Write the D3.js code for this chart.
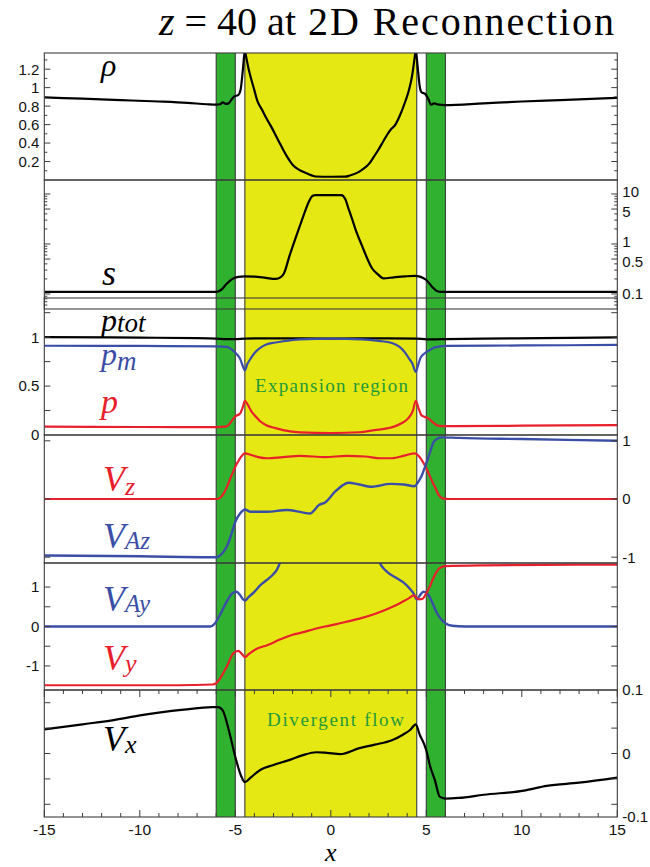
<!DOCTYPE html>
<html>
<head>
<meta charset="utf-8">
<script src="https://cdn.jsdelivr.net/npm/d3@7"></script>
<style>
  html, body { margin: 0; padding: 0; background: #fff; }
  svg { display: block; }
</style>
</head>
<body>
<svg id="chart" width="650" height="867"></svg>
<script>
// ---------------- data ----------------
const xDomain = [-15, 15];
const xMajorTicks = [-15, -10, -5, 0, 5, 10, 15];
const expansionRegion = [-4.5, 4.5];
const shockBands = [[-6, -5], [5, 6]];

// density
const rho = [[-15,0.895],[-13,0.88],[-11,0.865],[-9,0.85],[-7.5,0.835],[-6.5,0.82],[-6,0.815],[-5.8,0.82],[-5.65,0.84],[-5.5,0.825],[-5.35,0.83],[-5.2,0.87],[-5.05,0.905],[-4.85,0.92],[-4.72,0.98],[-4.6,1.2],[-4.5,1.4],[-4.42,1.32],[-4.3,1.2],[-4.15,1.08],[-4.0,0.97],[-3.85,0.86],[-3.6,0.76],[-3.35,0.66],[-3.1,0.57],[-2.9,0.49],[-2.7,0.41],[-2.5,0.33],[-2.25,0.24],[-2.0,0.165],[-1.7,0.115],[-1.3,0.075],[-1.0,0.05],[-0.8,0.038],[0,0.035],[0.75,0.036],[1.0,0.048],[1.45,0.085],[1.7,0.12],[2.0,0.175],[2.25,0.25],[2.5,0.33],[2.75,0.42],[2.95,0.49],[3.15,0.55],[3.35,0.59],[3.6,0.69],[3.9,0.85],[4.1,0.98],[4.25,1.12],[4.35,1.26],[4.45,1.4],[4.55,1.22],[4.65,1.02],[4.75,0.95],[4.95,0.93],[5.1,0.88],[5.25,0.815],[5.4,0.83],[5.55,0.82],[5.75,0.815],[6,0.81],[8,0.83],[10,0.85],[12,0.865],[15,0.89]];
const rhoTicks = [0.2, 0.4, 0.6, 0.8, 1, 1.2];
const rhoMinorTicks = [0.1, 0.3, 0.5, 0.7, 0.9, 1.1, 1.3];
const rhoTickLabels = [0.2, 0.4, 0.6, 0.8, 1, 1.2];

// entropy (log axis)
const entropy = [[-15,0.11],[-10,0.11],[-6,0.11],[-5.75,0.12],[-5.45,0.16],[-5.15,0.2],[-4.85,0.22],[-4.5,0.225],[-4,0.222],[-3.4,0.21],[-2.9,0.2],[-2.6,0.22],[-2.45,0.26],[-2.15,0.6],[-1.85,1.3],[-1.6,2.4],[-1.35,4.5],[-1.15,7],[-0.95,9.2],[-0.8,9.5],[0,9.5],[0.55,9.5],[0.75,8],[0.95,4.8],[1.1,3.3],[1.35,1.7],[1.62,0.95],[1.9,0.52],[2.15,0.33],[2.45,0.25],[2.76,0.205],[3.3,0.215],[3.9,0.225],[4.4,0.23],[4.7,0.22],[5.0,0.19],[5.3,0.14],[5.55,0.115],[5.8,0.11],[6,0.11],[10,0.11],[15,0.11]];
const entropyTicks = [0.1, 0.5, 1, 5, 10];
const entropyMinorTicks = [0.06, 0.07, 0.08, 0.09, 0.2, 0.3, 0.4, 0.6, 0.7, 0.8, 0.9, 2, 3, 4, 6, 7, 8, 9];
const entropyTickLabels = [10, 5, 1, 0.5, 0.1];

// pressures
const pTot = [[-15,1.0],[-10,0.995],[-7,0.99],[-6,0.985],[-5.5,0.98],[-5,0.98],[-4.5,0.985],[-3,0.988],[0,0.985],[3,0.988],[4.5,0.985],[5,0.978],[5.5,0.978],[6,0.98],[8,0.985],[11,0.99],[15,0.998]];
const pMag = [[-15,0.912],[-10,0.91],[-6,0.905],[-5.45,0.9],[-5.1,0.86],[-4.9,0.82],[-4.75,0.78],[-4.62,0.71],[-4.5,0.66],[-4.38,0.72],[-4.2,0.78],[-3.98,0.84],[-3.7,0.89],[-3.38,0.925],[-2.9,0.945],[-2.5,0.958],[-1.6,0.978],[0,0.985],[1.6,0.978],[2.5,0.962],[3.2,0.94],[3.6,0.9],[3.9,0.84],[4.1,0.78],[4.27,0.73],[4.45,0.645],[4.58,0.72],[4.7,0.79],[4.92,0.835],[5.2,0.87],[5.45,0.895],[6,0.91],[10,0.915],[15,0.92]];
const pGas = [[-15,0.085],[-10,0.082],[-6,0.08],[-5.45,0.088],[-5.2,0.14],[-5.0,0.19],[-4.75,0.22],[-4.6,0.29],[-4.5,0.35],[-4.35,0.31],[-4.15,0.24],[-3.98,0.2],[-3.7,0.14],[-3.38,0.1],[-2.9,0.07],[-2.5,0.05],[-1.6,0.027],[0,0.02],[1.5,0.028],[2.3,0.05],[3.0,0.07],[3.35,0.088],[3.7,0.12],[4.05,0.17],[4.3,0.25],[4.45,0.35],[4.6,0.27],[4.75,0.2],[5.1,0.17],[5.35,0.13],[5.6,0.096],[6,0.09],[10,0.095],[15,0.1]];
const pressureTicks = [0.25, 0.5, 0.75, 1, 1.25];
const pressureTickLabels = [1, 0.5, 0];

// z components of flow and Alfven velocity
const vz = [[-15,0],[-6,0],[-5.8,0.02],[-5.6,0.1],[-5.45,0.2],[-5.2,0.4],[-5.0,0.555],[-4.75,0.7],[-4.5,0.785],[-4.2,0.76],[-3.8,0.72],[-3.35,0.7],[-2.5,0.72],[-1.6,0.74],[-0.3,0.72],[0.8,0.74],[1.8,0.73],[2.6,0.7],[3.2,0.7],[3.9,0.75],[4.4,0.785],[4.6,0.74],[4.92,0.58],[5.2,0.38],[5.45,0.21],[5.65,0.07],[5.85,0.01],[6.2,0],[15,0]];
const vaz = [[-15,-0.97],[-10,-0.985],[-6,-1.0],[-5.8,-0.97],[-5.6,-0.9],[-5.45,-0.82],[-5.2,-0.6],[-5.0,-0.39],[-4.75,-0.25],[-4.5,-0.18],[-4.2,-0.22],[-3.35,-0.22],[-2.3,-0.19],[-1.5,-0.23],[-1.1,-0.25],[-0.6,-0.1],[-0.3,-0.06],[0.22,0.125],[0.6,0.23],[0.92,0.28],[1.5,0.25],[2.1,0.21],[3.15,0.26],[3.8,0.25],[4.38,0.22],[4.55,0.28],[4.7,0.36],[5.06,0.67],[5.4,0.985],[5.6,1.04],[5.8,1.06],[6.7,1.05],[10,1.03],[15,1.0]];
const vzTicks = [-1, 0, 1];
const vzTickLabels = [1, 0, -1];

// y components (Alfven velocity leaves the frame between the rotational discontinuities)
const vay = [[-15,0],[-6.3,0],[-6.1,0.06],[-5.8,0.3],[-5.45,0.63],[-5.2,0.82],[-4.95,0.88],[-4.75,0.8],[-4.58,0.68],[-4.5,0.66],[-4.3,0.75],[-4.0,0.88],[-3.7,1.04],[-3.35,1.18],[-3.0,1.33],[-2.8,1.46],[-2.67,1.61],[-2.55,1.75],[0,null],[2.5,1.75],[2.58,1.61],[2.75,1.48],[2.93,1.39],[3.4,1.24],[3.8,1.12],[4.1,0.98],[4.33,0.84],[4.5,0.69],[4.65,0.78],[4.85,0.88],[5.05,0.84],[5.3,0.62],[5.57,0.33],[5.8,0.17],[6.0,0.08],[6.35,0.02],[7,0],[15,0]];
const vy = [[-15,-1.49],[-8,-1.49],[-6.2,-1.47],[-6,-1.44],[-5.75,-1.28],[-5.45,-1.02],[-5.1,-0.68],[-4.85,-0.62],[-4.65,-0.7],[-4.5,-0.78],[-4.3,-0.7],[-3.9,-0.57],[-3.3,-0.47],[-2.67,-0.33],[-2,-0.21],[-1.5,-0.15],[-0.9,-0.07],[-0.3,0],[0.3,0.06],[0.8,0.12],[1.5,0.2],[2.37,0.33],[3.0,0.45],[3.41,0.54],[3.8,0.64],[4.1,0.72],[4.35,0.79],[4.5,0.72],[4.6,0.69],[4.8,0.7],[4.95,0.8],[5.15,0.98],[5.3,1.15],[5.5,1.35],[5.7,1.48],[6.0,1.53],[8,1.55],[15,1.57]];
const vyTicks = [-1, -0.5, 0, 0.5, 1];
const vyTickLabels = [1, 0, -1];

// x component of flow
const vx = [[-15,0.038],[-13,0.046],[-11.3,0.053],[-10,0.06],[-7.7,0.069],[-6.2,0.073],[-5.9,0.073],[-5.66,0.068],[-5.3,0.032],[-4.96,-0.01],[-4.7,-0.035],[-4.5,-0.045],[-4.2,-0.038],[-3.7,-0.026],[-3,-0.018],[-2.15,-0.01],[-1.5,-0.003],[-0.75,0.002],[-0.2,0.001],[0.5,-0.001],[1.45,0.008],[2.3,0.014],[3.2,0.021],[3.8,0.03],[4.15,0.037],[4.45,0.046],[4.65,0.03],[4.84,0.018],[5.0,0.005],[5.2,-0.02],[5.45,-0.042],[5.7,-0.068],[6.0,-0.071],[6.7,-0.07],[8,-0.065],[10.2,-0.058],[11.3,-0.051],[13,-0.046],[15,-0.038]];
const vxTicks = [-0.08, -0.04, 0, 0.04, 0.08];
const vxTickLabels = [0.1, 0, -0.1];

// ---------------- styling ----------------
const BLACK = "#000000", BLUE = "#3b4ea6", RED = "#e8202b";
const YELLOW = "#e5e813", GREEN = "#30b12f", LABEL_GREEN = "#1f9a3a";
const FRAME = "#3c3c3c";
const SERIF = "'Liberation Serif', 'Times New Roman', serif";
const SANS = "'Liberation Sans', Arial, sans-serif";

const svg = d3.select("#chart");
const X0 = 44.3, X1 = 617.3, TOP = 53, BOTTOM = 817;
const x = d3.scaleLinear().domain(xDomain).range([X0, X1]);

// closely spaced log labels are spread a little apart so they stay legible
const logLabelNudge = v => ({ 10: -2.5, 5: 2.5, 1: -2.5, 0.5: 2.5 }[v] || 0);

const panels = [
  { top: 53, bottom: 180, scale: d3.scaleLinear().domain([0, 1.375]),
    ticks: rhoTicks, minor: rhoMinorTicks, labels: rhoTickLabels, side: "left",
    series: [{ data: rho, color: BLACK, width: 2.2 }] },
  { top: 180, bottom: 309, scale: d3.scaleLog().domain([0.05, 19.05]),
    ticks: entropyTicks, minor: entropyMinorTicks, labels: entropyTickLabels, side: "right",
    nudge: logLabelNudge,
    series: [{ data: entropy, color: BLACK, width: 2.2 }] },
  { top: 298, bottom: 435, scale: d3.scaleLinear().domain([0, 1.4]),
    ticks: pressureTicks, minor: [], labels: pressureTickLabels, side: "left",
    series: [{ data: pTot, color: BLACK, width: 2.2 }, { data: pMag, color: BLUE, width: 2.2 }, { data: pGas, color: RED, width: 2.2 }] },
  { top: 435, bottom: 563, scale: d3.scaleLinear().domain([-1.1, 1.1]),
    ticks: vzTicks, minor: [], labels: vzTickLabels, side: "right",
    series: [{ data: vz, color: RED, width: 2.2 }, { data: vaz, color: BLUE, width: 2.4 }] },
  { top: 563, bottom: 690, scale: d3.scaleLinear().domain([-1.61, 1.61]),
    ticks: vyTicks, minor: [], labels: vyTickLabels, side: "left",
    series: [{ data: vay, color: BLUE, width: 2.4 }, { data: vy, color: RED, width: 2.2 }] },
  { top: 690, bottom: 817, scale: d3.scaleLinear().domain([-0.1, 0.1]),
    ticks: vxTicks, minor: [], labels: vxTickLabels, side: "right",
    series: [{ data: vx, color: BLACK, width: 2.2 }] }
];
panels.forEach(p => p.scale.range([p.bottom, p.top]));

// ---------------- shaded regions ----------------
const bg = svg.append("g");
bg.append("rect")
  .attr("x", x(expansionRegion[0])).attr("y", TOP)
  .attr("width", x(expansionRegion[1]) - x(expansionRegion[0])).attr("height", BOTTOM - TOP)
  .attr("fill", YELLOW);
bg.selectAll("rect.band").data(shockBands).join("rect")
  .attr("class", "band")
  .attr("x", d => x(d[0])).attr("y", TOP)
  .attr("width", d => x(d[1]) - x(d[0])).attr("height", BOTTOM - TOP)
  .attr("fill", GREEN);
const edges = [expansionRegion[0], expansionRegion[1]].concat(shockBands.flat());
bg.selectAll("line.edge").data(edges).join("line")
  .attr("class", "edge")
  .attr("x1", d => x(d)).attr("x2", d => x(d))
  .attr("y1", TOP).attr("y2", BOTTOM)
  .attr("stroke", FRAME).attr("stroke-width", 1.1);

// ---------------- curves ----------------
const defs = svg.append("defs");
panels.forEach((p, i) => {
  defs.append("clipPath").attr("id", "clip" + i)
    .append("rect").attr("x", X0).attr("y", p.top)
    .attr("width", X1 - X0).attr("height", p.bottom - p.top);
  const line = d3.line()
    .defined(d => d[1] != null)
    .x(d => x(d[0])).y(d => p.scale(d[1]))
    .curve(d3.curveMonotoneX);
  const g = svg.append("g").attr("clip-path", `url(#clip${i})`);
  p.series.forEach(s => {
    g.append("path").datum(s.data)
      .attr("d", line)
      .attr("fill", "none")
      .attr("stroke", s.color)
      .attr("stroke-width", s.width)
      .attr("stroke-linejoin", "round");
  });
});

// ---------------- frames, ticks, tick labels ----------------
const axes = svg.append("g");
panels.forEach(p => {
  axes.append("rect")
    .attr("x", X0).attr("y", p.top)
    .attr("width", X1 - X0).attr("height", p.bottom - p.top)
    .attr("fill", "none").attr("stroke", FRAME).attr("stroke-width", 1.1);
  const drawTicks = (vals, len) => {
    vals.forEach(v => {
      const yy = p.scale(v);
      if (yy < p.top - 0.5 || yy > p.bottom + 0.5) return;
      axes.append("line").attr("x1", X0).attr("x2", X0 + len).attr("y1", yy).attr("y2", yy)
        .attr("stroke", FRAME).attr("stroke-width", 1);
      axes.append("line").attr("x1", X1 - len).attr("x2", X1).attr("y1", yy).attr("y2", yy)
        .attr("stroke", FRAME).attr("stroke-width", 1);
    });
  };
  drawTicks(p.ticks, 6);
  drawTicks(p.minor, 3);
  p.labels.forEach(v => {
    const t = axes.append("text")
      .attr("y", p.scale(v) + (p.nudge ? p.nudge(v) : 0)).attr("dy", "0.36em")
      .attr("font-family", SANS).attr("font-size", 15).attr("fill", "#111")
      .text(String(v));
    if (p.side === "left") t.attr("x", X0 - 5).attr("text-anchor", "end");
    else t.attr("x", X1 + 5).attr("text-anchor", "start");
  });
});

// x ticks on the bottom panel (top and bottom edges)
const last = panels[panels.length - 1];
d3.range(xDomain[0], xDomain[1] + 1, 1).forEach(v => {
  const len = xMajorTicks.includes(v) ? 7 : 4;
  axes.append("line").attr("x1", x(v)).attr("x2", x(v))
    .attr("y1", last.bottom).attr("y2", last.bottom - len)
    .attr("stroke", FRAME).attr("stroke-width", 1);
  axes.append("line").attr("x1", x(v)).attr("x2", x(v))
    .attr("y1", last.top).attr("y2", last.top + len)
    .attr("stroke", FRAME).attr("stroke-width", 1);
});
axes.selectAll("text.xtick").data(xMajorTicks).join("text")
  .attr("class", "xtick")
  .attr("x", d => x(d)).attr("y", 834.5)
  .attr("text-anchor", "middle")
  .attr("font-family", SANS).attr("font-size", 15.5).attr("fill", "#111")
  .text(d => String(d));

// ---------------- titles and variable names ----------------
svg.append("text")
  .attr("x", x(0)).attr("y", 861).attr("text-anchor", "middle")
  .attr("font-family", SERIF).attr("font-style", "italic").attr("font-size", 26)
  .text("x");

const title1 = svg.append("text")
  .attr("x", 296).attr("y", 35).attr("text-anchor", "end")
  .attr("font-family", SERIF).attr("font-size", 40).attr("fill", "#000");
title1.append("tspan").attr("font-style", "italic").text("z");
title1.append("tspan").text(" = 40 at");
svg.append("text")
  .attr("x", 308).attr("y", 35)
  .attr("textLength", 306).attr("lengthAdjust", "spacing")
  .attr("font-family", SERIF).attr("font-size", 40).attr("fill", "#000")
  .text("2D Reconnection");

// variable name: main symbol plus optional subscript
function varName(px, py, main, sub, color, size, subSize, subDy) {
  const t = svg.append("text")
    .attr("x", px).attr("y", py)
    .attr("font-family", SERIF).attr("font-style", "italic")
    .attr("fill", color);
  t.append("tspan").attr("font-size", size).text(main);
  if (sub) t.append("tspan").attr("font-size", subSize).attr("dy", subDy).text(sub);
}
varName(101, 76, "ρ", null, BLACK, 32);
varName(102, 285, "s", null, BLACK, 36);
varName(101, 331, "p", "tot", BLACK, 32, 27, 1);
varName(101, 365, "p", "m", BLUE, 32, 27, 5);
varName(101, 413, "p", null, RED, 34);
varName(103, 491, "V", "z", RED, 36, 26, 4);
varName(103, 548, "V", "Az", BLUE, 36, 25, 1);
varName(103, 611, "V", "Ay", BLUE, 36, 25, 1);
varName(103, 670, "V", "y", RED, 36, 26, 2);
varName(103, 751, "V", "x", BLACK, 36, 26, 2);

// region annotations
svg.append("text")
  .attr("x", 255).attr("y", 392)
  .attr("textLength", 153).attr("lengthAdjust", "spacing")
  .attr("font-family", SERIF).attr("font-size", 19).attr("fill", LABEL_GREEN)
  .text("Expansion region");
svg.append("text")
  .attr("x", 267).attr("y", 726)
  .attr("textLength", 137).attr("lengthAdjust", "spacing")
  .attr("font-family", SERIF).attr("font-size", 19).attr("fill", LABEL_GREEN)
  .text("Divergent flow");
</script>
</body>
</html>
